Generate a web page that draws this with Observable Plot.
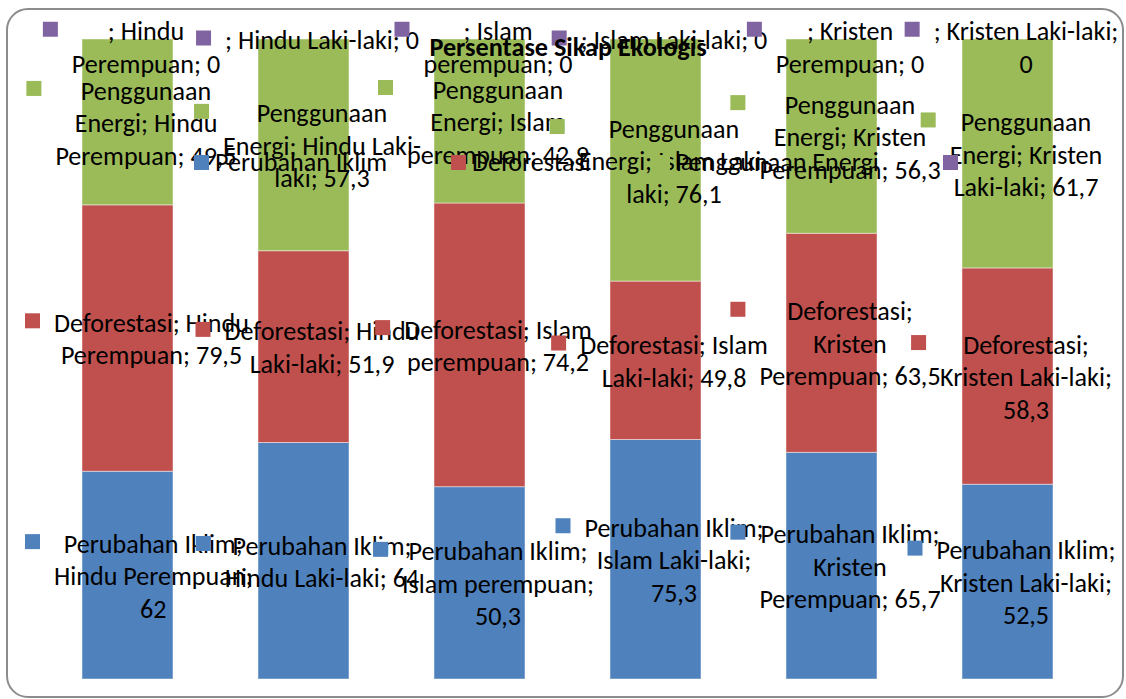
<!DOCTYPE html>
<html>
<head>
<meta charset="utf-8">
<script src="https://cdn.jsdelivr.net/npm/d3@7"></script>
<script src="https://cdn.jsdelivr.net/npm/@observablehq/plot@0.6"></script>
<style>
  html, body { margin: 0; padding: 0; background: #fff; }
  #wrap { position: relative; width: 1126px; height: 699px; overflow: hidden; }
  #wrap svg { position: absolute; left: 0; top: 0; }
  #frame { position: absolute; left: 6px; top: 8px; width: 1118px; height: 690px; box-sizing: border-box;
           border: 2px solid #8c8c8c; border-radius: 22px; pointer-events: none; }
  #legend { position: absolute; left: 194px; top: 146px; height: 32px; display: flex; align-items: center; white-space: nowrap; }
  .item { display: flex; align-items: center; margin-right: 64px; }
  .key { width: 15px; height: 15px; margin-right: 6px; flex: none; }
  #title { position: absolute; top: 31px; left: 568px; transform: translateX(-50%); white-space: nowrap;
           font-weight: 700; line-height: 32px; color: #000; }
</style>
</head>
<body>
<div id="wrap"></div>
<script>
// ---------------- data ----------------
const categories = ["Hindu Perempuan", "Hindu Laki-laki", "Islam perempuan", "Islam Laki-laki", "Kristen Perempuan", "Kristen Laki-laki"];
const seriesNames = ["Perubahan Iklim", "Deforestasi", "Penggunaan Energi", ""];
const perubahanIklim   = [62, 64, 50.3, 75.3, 65.7, 52.5];
const deforestasi      = [79.5, 51.9, 74.2, 49.8, 63.5, 58.3];
const penggunaanEnergi = [49.5, 57.3, 42.9, 76.1, 56.3, 61.7];
const seriesKosong     = [0, 0, 0, 0, 0, 0];
const titleText = "Persentase Sikap Ekologis";

// ---------------- styles ----------------
const COLORS = ["#4F81BD", "#C0504D", "#9BBB59", "#8064A2"];
const FONT = "Carlito, Lato, sans-serif";
const BASE_PX = 26;          // label font size of the original (Calibri)
const WRAP_EM = 7.7;         // label wrap width in Calibri ems
const LINE_H = 32.5;
const KEY = 15, KEY_GAP = 14, SHIFT = 4, DY = 1;
const MIN_LEFT = 25, MIN_TOP = 15;

const seriesValues = [perubahanIklim, deforestasi, penggunaanEnergi, seriesKosong];
const rows = [];
seriesNames.forEach((s, si) => categories.forEach((c, ci) => rows.push({series: s, si, category: c, ci, value: seriesValues[si][ci]})));

// stack midpoints (normalized)
const totals = categories.map((c, ci) => d3.sum(seriesValues, v => v[ci]));
const labelRows = [];
categories.forEach((c, ci) => {
  let cum = 0;
  seriesNames.forEach((s, si) => {
    const v = seriesValues[si][ci];
    labelRows.push({series: s, si, category: c, ci, value: v, mid: (cum + v / 2) / totals[ci]});
    cum += v;
  });
});
labelRows.sort((a, b) => a.si - b.si || a.ci - b.ci);

const fmt = v => String(v).replace(".", ",");

// Calibri advance widths (per 1000 em) used for Excel-like wrapping
const CAL = {" ":226,";":268,",":250,"-":306,"a":479,"b":525,"c":423,"d":525,"e":498,"f":305,"g":471,"h":525,"i":229,"k":455,"l":229,
  "m":799,"n":525,"o":527,"p":525,"r":349,"s":391,"t":335,"u":525,"D":615,"E":488,"H":623,"I":252,"K":520,"L":420,"P":517,
  "0":507,"1":507,"2":507,"3":507,"4":507,"5":507,"6":507,"7":507,"8":507,"9":507};
const CALB = {" ":226,"P":532,"e":503,"r":355,"s":399,"n":537,"t":347,"a":494,"S":473,"i":246,"k":480,"p":537,"E":488,"o":538,"l":246,"g":474};
const calEm = (s, tbl = CAL) => { let w = 0; for (const ch of s) w += (tbl[ch] ?? 500); return w / 1000; };

function wrap(text) {
  const parts = [];
  text.split(" ").forEach(w => {
    w.split(/(?<=-)/).forEach((p, pi) => parts.push({t: p, join: (pi === 0 && parts.length) ? " " : ""}));
  });
  const lines = [];
  let line = "";
  for (const p of parts) {
    const cand = line ? line + p.join + p.t : p.t;
    if (!line || calEm(cand) <= WRAP_EM) line = cand;
    else { lines.push(line); line = p.t; }
  }
  if (line) lines.push(line);
  return lines;
}
labelRows.forEach(d => { d.lines = wrap(`${d.series}; ${d.category}; ${fmt(d.value)}`); });

// font scaling so that the substitute font has Calibri-like widths
const ctx = document.createElement("canvas").getContext("2d");
function textW(s, px, weight = 400) { ctx.font = `${weight} ${px}px ${FONT}`; return ctx.measureText(s).width; }
const sample = labelRows.map(d => d.lines.join(" ")).join(" ") + " " + seriesNames.join(" ");
const FPX = BASE_PX * (calEm(sample) * BASE_PX) / textW(sample, BASE_PX);
const TPX = BASE_PX * (calEm(titleText, CALB) * BASE_PX) / textW(titleText, BASE_PX, 700);

// ---------------- label mark ----------------
function labelsMark(index, scales, values, dimensions) {
  const sx = scales.x, sy = scales.y;
  const bw = typeof sx.bandwidth === "function" ? sx.bandwidth() : 0;
  const g = d3.create("svg:g");
  for (const d of labelRows) {
    const cx = sx(d.category) + bw / 2;
    const cy = sy(d.mid);
    const W = d3.max(d.lines, l => textW(l, FPX));
    const total = KEY + KEY_GAP + W;
    const left = Math.max(MIN_LEFT, cx - total / 2 + SHIFT);
    const n = d.lines.length;
    const top = Math.max(MIN_TOP, cy + DY - n * LINE_H / 2);
    const tx = left + KEY + KEY_GAP + W / 2;
    const lg = g.append("g");
    lg.append("rect")
      .attr("x", left).attr("y", top + LINE_H / 2 - 2 - KEY / 2)
      .attr("width", KEY).attr("height", KEY)
      .attr("fill", COLORS[d.si]);
    const t = lg.append("text")
      .attr("text-anchor", "middle")
      .attr("fill", "#000")
      .style("font-family", FONT)
      .style("font-size", FPX + "px");
    d.lines.forEach((l, i) => {
      t.append("tspan").attr("x", tx).attr("y", top + LINE_H * (i + 0.5) + 0.35 * BASE_PX).text(l);
    });
  }
  return g.node();
}

// ---------------- plot ----------------
const chart = Plot.plot({
  width: 1126,
  height: 699,
  marginLeft: 80,
  marginRight: 71,
  marginTop: 39,
  marginBottom: 20,
  style: {background: "transparent", overflow: "visible"},
  x: {domain: categories, axis: null, paddingInner: 0.485, paddingOuter: 0},
  y: {domain: [0, 1], axis: null},
  color: {type: "identity"},
  marks: [
    Plot.barY(rows, {x: "category", y: "value", fill: d => COLORS[d.si], offset: "normalize",
                     stroke: "#ffffff", strokeOpacity: 0.45, strokeWidth: 1}),
    labelsMark
  ]
});

const wrapEl = document.getElementById("wrap");
wrapEl.appendChild(chart);

// legend (overlaid, as in the original)
const legend = document.createElement("div");
legend.id = "legend";
seriesNames.forEach((s, si) => {
  const item = document.createElement("div");
  item.className = "item";
  const key = document.createElement("span");
  key.className = "key";
  key.style.background = COLORS[si];
  item.appendChild(key);
  const lab = document.createElement("span");
  lab.textContent = s;
  lab.style.fontFamily = FONT;
  lab.style.fontSize = FPX + "px";
  lab.style.lineHeight = "32px";
  lab.style.color = "#000";
  item.appendChild(lab);
  legend.appendChild(item);
});
wrapEl.appendChild(legend);

const title = document.createElement("div");
title.id = "title";
title.textContent = titleText;
title.style.fontFamily = FONT;
title.style.fontSize = TPX + "px";
wrapEl.appendChild(title);

const frame = document.createElement("div");
frame.id = "frame";
wrapEl.appendChild(frame);
</script>
</body>
</html>
